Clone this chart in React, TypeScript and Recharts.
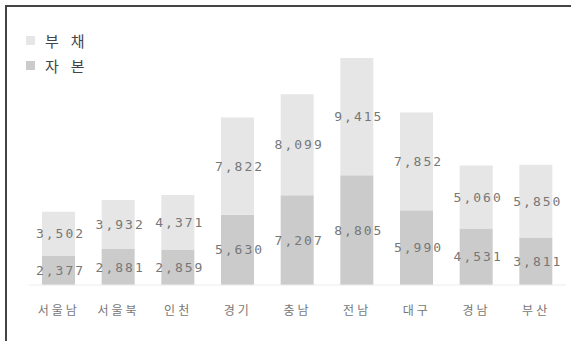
import React from "react";
import { BarChart, Bar, XAxis, YAxis, LabelList } from "recharts";

const categories = ["서울남", "서울북", "인천", "경기", "충남", "전남", "대구", "경남", "부산"];
const capital = [2377, 2881, 2859, 5630, 7207, 8805, 5990, 4531, 3811];
const debt = [3502, 3932, 4371, 7822, 8099, 9415, 7852, 5060, 5850];

const data = categories.map((name, i) => ({ name, capital: capital[i], debt: debt[i] }));

const fmt = (v: any) => Number(v).toLocaleString("en-US");

const NumLabel = (props: any) => {
  const { x, y, width, height, value } = props;
  return (
    <text
      x={x + width / 2 + 2}
      y={y + height / 2}
      textAnchor="middle"
      dominantBaseline="central"
      fill="#777"
      fontSize={13}
      letterSpacing={2}
      fontFamily="'DejaVu Sans Mono', monospace"
    >
      {fmt(value)}
    </text>
  );
};

const Tick = (props: any) => {
  const { x, y, payload } = props;
  return (
    <text
      x={x}
      y={y + 24}
      textAnchor="middle"
      dominantBaseline="central"
      fill="#777"
      fontSize={12}
      letterSpacing={3}
      fontFamily="'Noto Sans CJK KR', sans-serif"
    >
      {payload.value}
    </text>
  );
};

export default function App() {
  return (
    <div>
      <div
        style={{
          position: "absolute",
          left: 5,
          top: 5,
          width: 566,
          height: 336,
          boxSizing: "border-box",
          borderTop: "2px solid #444",
          borderLeft: "2px solid #444",
          background: "#fff",
        }}
      />
      <div style={{ position: "absolute", left: 0, top: 0 }}>
        <BarChart
          width={571}
          height={341}
          data={data}
          margin={{ top: 58, right: 5, left: 29, bottom: 26 }}
          barSize={33}
        >
          <XAxis
            dataKey="name"
            axisLine={{ stroke: "#ececec" }}
            tickLine={false}
            tickSize={0}
            tickMargin={0}
            height={30}
            tick={<Tick />}
            interval={0}
          />
          <YAxis hide domain={[0, "dataMax"]} />
          <Bar dataKey="capital" stackId="a" fill="#cbcbcb" isAnimationActive={false}>
            <LabelList dataKey="capital" content={<NumLabel />} />
          </Bar>
          <Bar dataKey="debt" stackId="a" fill="#e6e6e6" isAnimationActive={false}>
            <LabelList dataKey="debt" content={<NumLabel />} />
          </Bar>
        </BarChart>
      </div>
      <div
        style={{
          position: "absolute",
          left: 26,
          top: 28,
          fontFamily: "'Noto Sans CJK KR', sans-serif",
          fontSize: 15,
          color: "#444",
          lineHeight: "25px",
        }}
      >
        <div style={{ display: "flex", alignItems: "center" }}>
          <span style={{ width: 9, height: 9, background: "#e6e6e6", display: "inline-block", marginRight: 10 }} />
          <span style={{ letterSpacing: 12 }}>부채</span>
        </div>
        <div style={{ display: "flex", alignItems: "center" }}>
          <span style={{ width: 9, height: 9, background: "#cbcbcb", display: "inline-block", marginRight: 10 }} />
          <span style={{ letterSpacing: 12 }}>자본</span>
        </div>
      </div>
    </div>
  );
}
